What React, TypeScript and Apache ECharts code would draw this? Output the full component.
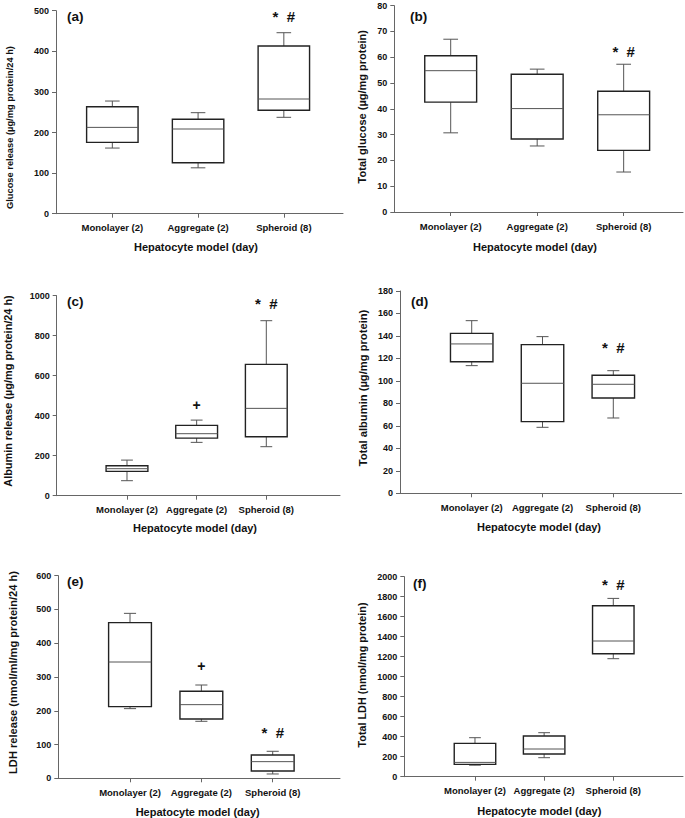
import React, { useEffect, useRef } from "react";
import * as echarts from "echarts";

const categories = ["Monolayer (2)", "Aggregate (2)", "Spheroid (8)"];
const xAxisTitle = "Hepatocyte model (day)";

// each box: [min, Q1, median, Q3, max]
const glucoseRelease = [
  [161.7, 175.7, 212.6, 263.5, 277.5],
  [113, 125.6, 208.6, 232.5, 248.8],
  [237.4, 254.7, 282.5, 413, 445.8],
];
const totalGlucose = [
  [30.7, 42.6, 54.8, 60.6, 67],
  [25.6, 28.3, 40.1, 53.4, 55.4],
  [15.5, 23.9, 37.7, 46.8, 57.3],
];
const albuminRelease = [
  [75, 121.7, 135, 150, 178],
  [266.7, 288, 310, 351.7, 378],
  [245, 295, 436.7, 656.7, 875],
];
const totalAlbumin = [
  [113.6, 117.1, 132.9, 142.3, 153.6],
  [58.7, 63.8, 97.9, 132.3, 139.4],
  [67, 84.8, 97, 105, 109.1],
];
const ldhRelease = [
  [206.3, 212.2, 344.4, 460.9, 488.5],
  [168.8, 175.7, 218.1, 257.6, 276.3],
  [12.8, 21.7, 49.3, 69, 80],
];
const totalLdh = [
  [115, 123, 143, 333, 390],
  [190, 227, 277, 407, 440],
  [1180, 1230, 1357, 1710, 1783],
];

// significance marks: category index, y value, text
const marksA = [{ cat: 2, y: 485, text: "* #" }];
const marksB = [{ cat: 2, y: 62.4, text: "* #" }];
const marksC = [
  { cat: 1, y: 453, text: "+" },
  { cat: 2, y: 962, text: "* #" },
];
const marksD = [{ cat: 2, y: 129.6, text: "* #" }];
const marksE = [
  { cat: 1, y: 333.6, text: "+" },
  { cat: 2, y: 136, text: "* #" },
];
const marksF = [{ cat: 2, y: 1923, text: "* #" }];

const yTitles = [
  "Glucose release (µg/mg protein/24 h)",
  "Total glucose (µg/mg protein)",
  "Albumin release (µg/mg protein/24 h)",
  "Total albumin (µg/mg protein)",
  "LDH release (nmol/ml/mg protein/24 h)",
  "Total LDH (nmol/mg protein)",
];
const panelLetters = ["(a)", "(b)", "(c)", "(d)", "(e)", "(f)"];
const yMax = [500, 80, 1000, 180, 600, 2000];
const yStep = [100, 10, 200, 20, 100, 200];

const panelData = [glucoseRelease, totalGlucose, albuminRelease, totalAlbumin, ldhRelease, totalLdh];
const panelMarks = [marksA, marksB, marksC, marksD, marksE, marksF];

// layout (pixels) of each panel
const layout = [
  { left: 56, top: 10.7, width: 287, height: 203, xMin: -0.657, xMax: 2.69, letter: [67, 16], yName: [9.5, 127.5, 9.3], xName: [196, 247] },
  { left: 394.3, top: 5.7, width: 288.7, height: 206.3, xMin: -0.652, xMax: 2.686, letter: [410, 16], yName: [362, 106.7, 11], xName: [535, 246.7] },
  { left: 56.7, top: 295.7, width: 283.3, height: 200, xMin: -1.009, xMax: 3.058, letter: [67, 301.7], yName: [8.3, 391, 10.9], xName: [195, 528.3] },
  { left: 400, top: 291, width: 281.7, height: 202.3, xMin: -1.013, xMax: 2.966, letter: [411, 301.7], yName: [363, 388, 11.2], xName: [539, 526.7] },
  { left: 58.3, top: 575.7, width: 281.7, height: 202.6, xMin: -1.005, xMax: 2.943, letter: [67, 581], yName: [13.3, 672.5, 11.1], xName: [197.7, 812.3] },
  { left: 404.3, top: 576.7, width: 278.7, height: 200, xMin: -1.022, xMax: 3.008, letter: [413, 583], yName: [362, 675, 10.8], xName: [539.3, 811] },
];

const FONT = "'Liberation Sans', Arial, Helvetica, sans-serif";
const AXIS_COLOR = "#666";

function buildOption() {
  const grid: any[] = [];
  const xAxis: any[] = [];
  const yAxis: any[] = [];
  const series: any[] = [];
  const graphic: any[] = [];

  layout.forEach((L, p) => {
    grid.push({ left: L.left, top: L.top, width: L.width, height: L.height, containLabel: false });
    xAxis.push({
      type: "value",
      gridIndex: p,
      min: L.xMin,
      max: L.xMax,
      splitLine: { show: false },
      axisLine: { show: true, onZero: false, lineStyle: { color: AXIS_COLOR, width: 1 } },
      axisTick: { show: true, length: 4, customValues: [0, 1, 2], lineStyle: { color: AXIS_COLOR } },
      axisLabel: {
        show: true,
        customValues: [0, 1, 2],
        formatter: (v: number) => categories[Math.round(v)] ?? "",
        margin: 9,
        fontSize: 9.5,
        fontWeight: "bold",
        fontFamily: FONT,
        color: "#111",
      },
    });
    yAxis.push({
      type: "value",
      gridIndex: p,
      min: 0,
      max: yMax[p],
      interval: yStep[p],
      splitLine: { show: false },
      axisLine: { show: true, onZero: false, lineStyle: { color: AXIS_COLOR, width: 1 } },
      axisTick: { show: true, length: 4, lineStyle: { color: AXIS_COLOR } },
      axisLabel: {
        margin: 7,
        fontSize: 9,
        fontWeight: "bold",
        fontFamily: FONT,
        color: "#111",
        formatter: (v: number) => String(v),
      },
    });

    const boxes = panelData[p];
    series.push({
      type: "custom",
      xAxisIndex: p,
      yAxisIndex: p,
      clip: false,
      data: boxes.map((b, i) => [i, ...b]),
      encode: { x: 0, y: [1, 2, 3, 4, 5] },
      renderItem: (params: any, api: any) => {
        const x = api.value(0);
        const vMin = api.value(1);
        const vQ1 = api.value(2);
        const vMed = api.value(3);
        const vQ3 = api.value(4);
        const vMax = api.value(5);
        const band = api.size([1, 0])[0];
        const half = band * 0.3;
        const capHalf = band * 0.085;
        const pMin = api.coord([x, vMin]);
        const cx = pMin[0];
        const yMin = pMin[1];
        const yQ1 = api.coord([x, vQ1])[1];
        const yMed = api.coord([x, vMed])[1];
        const yQ3 = api.coord([x, vQ3])[1];
        const yMx = api.coord([x, vMax])[1];
        const whisker = { stroke: "#555", lineWidth: 1 };
        return {
          type: "group",
          children: [
            { type: "line", shape: { x1: cx, y1: yQ3, x2: cx, y2: yMx }, style: whisker },
            { type: "line", shape: { x1: cx, y1: yQ1, x2: cx, y2: yMin }, style: whisker },
            { type: "line", shape: { x1: cx - capHalf, y1: yMx, x2: cx + capHalf, y2: yMx }, style: whisker },
            { type: "line", shape: { x1: cx - capHalf, y1: yMin, x2: cx + capHalf, y2: yMin }, style: whisker },
            {
              type: "rect",
              shape: { x: cx - half, y: yQ3, width: half * 2, height: yQ1 - yQ3 },
              style: { fill: "#fff", stroke: "#222", lineWidth: 1.4 },
            },
            { type: "line", shape: { x1: cx - half, y1: yMed, x2: cx + half, y2: yMed }, style: { stroke: "#555", lineWidth: 1 } },
          ],
        };
      },
    });

    const marks = panelMarks[p];
    series.push({
      type: "custom",
      xAxisIndex: p,
      yAxisIndex: p,
      clip: false,
      data: marks.map((m) => [m.cat, m.y]),
      encode: { x: 0, y: 1 },
      renderItem: (params: any, api: any) => {
        const pt = api.coord([api.value(0), api.value(1)]);
        const txt = marks[params.dataIndex].text;
        return {
          type: "text",
          x: pt[0],
          y: pt[1],
          style: {
            text: txt === "* #" ? "*  #" : txt,
            fill: "#111",
            fontSize: txt === "+" ? 14 : 15,
            fontWeight: "bold",
            fontFamily: FONT,
            align: "center",
            verticalAlign: "middle",
            textAlign: "center",
            textVerticalAlign: "middle",
          },
        };
      },
    });

    graphic.push({
      type: "text",
      x: L.letter[0],
      y: L.letter[1],
      style: {
        text: panelLetters[p],
        fill: "#111",
        fontSize: 13.5,
        fontWeight: "bold",
        fontFamily: FONT,
        align: "left",
        verticalAlign: "middle",
        textAlign: "left",
        textVerticalAlign: "middle",
      },
    });
    graphic.push({
      type: "text",
      x: L.yName[0],
      y: L.yName[1],
      rotation: Math.PI / 2,
      style: {
        text: yTitles[p],
        fill: "#111",
        fontSize: L.yName[2],
        fontWeight: "bold",
        fontFamily: FONT,
        align: "center",
        verticalAlign: "middle",
        textAlign: "center",
        textVerticalAlign: "middle",
      },
    });
    graphic.push({
      type: "text",
      x: L.xName[0],
      y: L.xName[1],
      style: {
        text: xAxisTitle,
        fill: "#111",
        fontSize: 11,
        fontWeight: "bold",
        fontFamily: FONT,
        align: "center",
        verticalAlign: "middle",
        textAlign: "center",
        textVerticalAlign: "middle",
      },
    });
  });

  return {
    animation: false,
    backgroundColor: "#fff",
    grid,
    xAxis,
    yAxis,
    series,
    graphic,
  };
}

export default function App() {
  const ref = useRef<HTMLDivElement>(null);
  useEffect(() => {
    if (!ref.current) return;
    const chart = echarts.init(ref.current, undefined, { renderer: "svg" });
    chart.setOption(buildOption() as any);
    return () => chart.dispose();
  }, []);
  return (
    <div
      ref={ref}
      style={{ position: "absolute", left: 0, top: 0, width: 685, height: 818, background: "#fff" }}
    />
  );
}
